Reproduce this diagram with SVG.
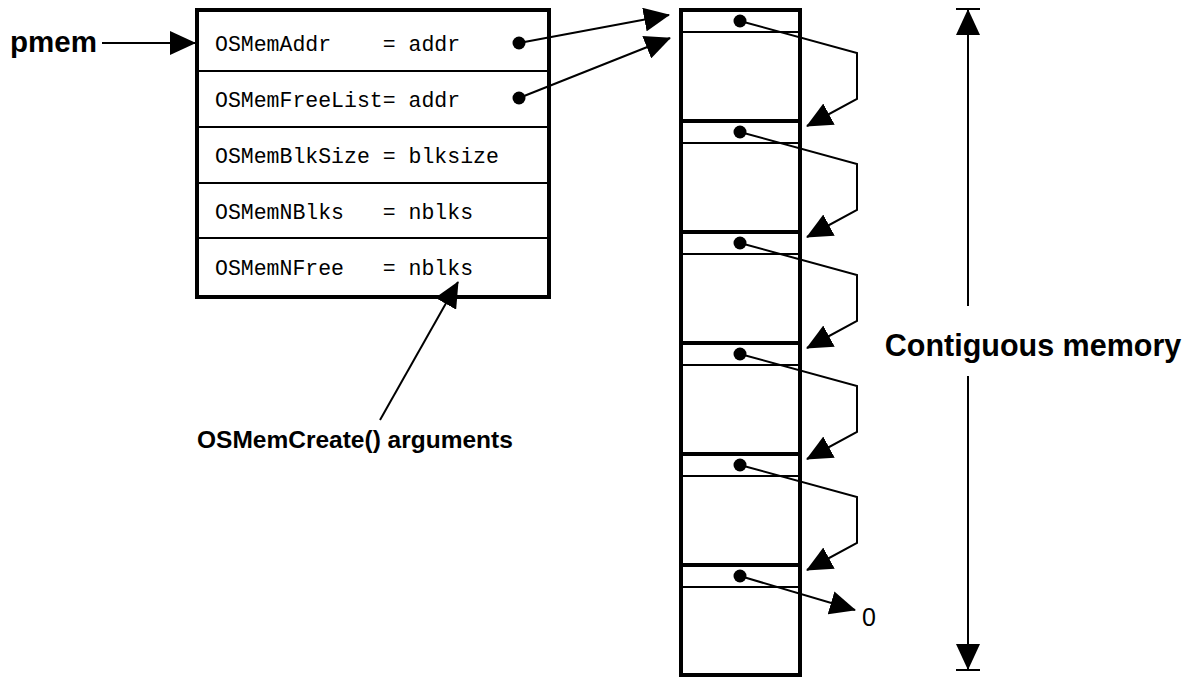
<svg xmlns="http://www.w3.org/2000/svg" width="1197" height="679" viewBox="0 0 1197 679">
<style>
.bold{font-family:"Liberation Sans",Arial,sans-serif;font-weight:bold;fill:#000}
.mono{font-family:"Liberation Mono","Courier New",monospace;font-size:21.5px;fill:#000;white-space:pre}
.thick{fill:none;stroke:#000;stroke-width:4}
.thin{fill:none;stroke:#000;stroke-width:2}
.cl{fill:none;stroke:#000;stroke-width:2}
.dot{fill:#000}
</style>
<defs>
<marker id="ah" viewBox="0 0 26 24" refX="25" refY="12" markerWidth="26" markerHeight="24" markerUnits="userSpaceOnUse" orient="auto">
<path d="M0,0 L26,12 L0,24 Z" fill="#000"/>
</marker>
</defs>
<rect width="1197" height="679" fill="#fff"/>

<g id="pmem-label"><text class="bold" x="10" y="52" font-size="29.5">pmem</text></g>

<g id="mem-control-block">
<rect class="thick" x="197" y="10" width="352" height="287"/>
<line class="thin" x1="197" y1="71" x2="549" y2="71"/>
<line class="thin" x1="197" y1="127" x2="549" y2="127"/>
<line class="thin" x1="197" y1="183" x2="549" y2="183"/>
<line class="thin" x1="197" y1="238" x2="549" y2="238"/>
<text class="mono" x="215" y="51" xml:space="preserve">OSMemAddr    = addr</text>
<text class="mono" x="215" y="107" xml:space="preserve">OSMemFreeList= addr</text>
<text class="mono" x="215" y="163" xml:space="preserve">OSMemBlkSize = blksize</text>
<text class="mono" x="215" y="219" xml:space="preserve">OSMemNBlks   = nblks</text>
<text class="mono" x="215" y="275" xml:space="preserve">OSMemNFree   = nblks</text>
<circle class="dot" cx="519" cy="43" r="6.5"/>
<circle class="dot" cx="519" cy="98" r="6.5"/>
</g>

<g id="create-label"><text class="bold" x="197" y="448" font-size="24.5">OSMemCreate() arguments</text></g>

<g id="memory-partition">
<rect class="thick" x="681" y="10" width="119" height="665" stroke-width="5"/>
<line class="thick" x1="681" y1="121" x2="800" y2="121"/>
<line class="thick" x1="681" y1="232" x2="800" y2="232"/>
<line class="thick" x1="681" y1="343" x2="800" y2="343"/>
<line class="thick" x1="681" y1="454" x2="800" y2="454"/>
<line class="thick" x1="681" y1="565" x2="800" y2="565"/>
<line class="thin" x1="681" y1="32" x2="800" y2="32"/>
<line class="thin" x1="681" y1="143" x2="800" y2="143"/>
<line class="thin" x1="681" y1="254" x2="800" y2="254"/>
<line class="thin" x1="681" y1="365" x2="800" y2="365"/>
<line class="thin" x1="681" y1="476" x2="800" y2="476"/>
<line class="thin" x1="681" y1="587" x2="800" y2="587"/>
<circle class="dot" cx="740" cy="21" r="6.5"/>
<circle class="dot" cx="740" cy="132" r="6.5"/>
<circle class="dot" cx="740" cy="243" r="6.5"/>
<circle class="dot" cx="740" cy="354" r="6.5"/>
<circle class="dot" cx="740" cy="465" r="6.5"/>
<circle class="dot" cx="740" cy="576" r="6.5"/>
</g>

<g id="null-label"><text x="862" y="626" font-family="Liberation Sans, Arial, sans-serif" font-size="25" fill="#000">0</text></g>

<g id="contiguous-label"><text class="bold" x="1033" y="356" font-size="30.5" text-anchor="middle">Contiguous memory</text></g>

<g id="connectors">
<line class="cl" x1="102" y1="43" x2="195" y2="43" marker-end="url(#ah)"/>
<line class="cl" x1="519" y1="43" x2="669" y2="15" marker-end="url(#ah)"/>
<line class="cl" x1="519" y1="98" x2="670" y2="38" marker-end="url(#ah)"/>
<line class="cl" x1="380" y1="420" x2="458" y2="282" marker-end="url(#ah)"/>
<polyline class="cl" points="740,21 857,53 857,99 807,126" marker-end="url(#ah)"/>
<polyline class="cl" points="740,132 857,164 857,210 807,237" marker-end="url(#ah)"/>
<polyline class="cl" points="740,243 857,275 857,321 807,348" marker-end="url(#ah)"/>
<polyline class="cl" points="740,354 857,386 857,432 807,459" marker-end="url(#ah)"/>
<polyline class="cl" points="740,465 857,497 857,543 807,570" marker-end="url(#ah)"/>
<line class="cl" x1="740" y1="576" x2="855" y2="610" marker-end="url(#ah)"/>
<line class="cl" x1="968" y1="306" x2="968" y2="10" marker-end="url(#ah)"/>
<line class="cl" x1="968" y1="376" x2="968" y2="669" marker-end="url(#ah)"/>
<line class="cl" x1="956" y1="9" x2="980" y2="9"/>
<line class="cl" x1="956" y1="670" x2="980" y2="670"/>
</g>
</svg>
